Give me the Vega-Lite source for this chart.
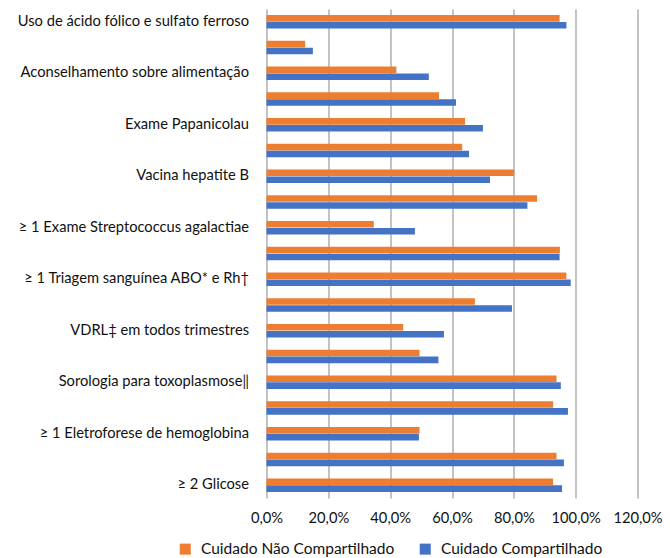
{
  "$schema": "https://vega.github.io/schema/vega-lite/v6.json",
  "width": 371,
  "height": 489,
  "autosize": {"type": "none"},
  "padding": {"left": 266.5, "top": 9, "right": 32.5, "bottom": 60},
  "background": "white",
  "config": {"view": {"stroke": null}, "font": "Lato"},
  "data": {"values": [
    {"item": "Uso de ácido fólico e sulfato ferroso", "grupo": "Cuidado Não Compartilhado", "valor": 94.8},
    {"item": "Uso de ácido fólico e sulfato ferroso", "grupo": "Cuidado Compartilhado", "valor": 97.0},
    {"item": "#2", "grupo": "Cuidado Não Compartilhado", "valor": 12.5},
    {"item": "#2", "grupo": "Cuidado Compartilhado", "valor": 15.0},
    {"item": "Aconselhamento sobre alimentação", "grupo": "Cuidado Não Compartilhado", "valor": 42.0},
    {"item": "Aconselhamento sobre alimentação", "grupo": "Cuidado Compartilhado", "valor": 52.5},
    {"item": "#4", "grupo": "Cuidado Não Compartilhado", "valor": 55.8},
    {"item": "#4", "grupo": "Cuidado Compartilhado", "valor": 61.3},
    {"item": "Exame Papanicolau", "grupo": "Cuidado Não Compartilhado", "valor": 64.2},
    {"item": "Exame Papanicolau", "grupo": "Cuidado Compartilhado", "valor": 70.0},
    {"item": "#6", "grupo": "Cuidado Não Compartilhado", "valor": 63.3},
    {"item": "#6", "grupo": "Cuidado Compartilhado", "valor": 65.5},
    {"item": "Vacina hepatite B", "grupo": "Cuidado Não Compartilhado", "valor": 80.1},
    {"item": "Vacina hepatite B", "grupo": "Cuidado Compartilhado", "valor": 72.3},
    {"item": "#8", "grupo": "Cuidado Não Compartilhado", "valor": 87.5},
    {"item": "#8", "grupo": "Cuidado Compartilhado", "valor": 84.4},
    {"item": "≥ 1 Exame Streptococcus agalactiae", "grupo": "Cuidado Não Compartilhado", "valor": 34.7},
    {"item": "≥ 1 Exame Streptococcus agalactiae", "grupo": "Cuidado Compartilhado", "valor": 48.0},
    {"item": "#10", "grupo": "Cuidado Não Compartilhado", "valor": 94.9},
    {"item": "#10", "grupo": "Cuidado Compartilhado", "valor": 94.8},
    {"item": "≥ 1 Triagem sanguínea ABO* e Rh†", "grupo": "Cuidado Não Compartilhado", "valor": 97.0},
    {"item": "≥ 1 Triagem sanguínea ABO* e Rh†", "grupo": "Cuidado Compartilhado", "valor": 98.4},
    {"item": "#12", "grupo": "Cuidado Não Compartilhado", "valor": 67.4},
    {"item": "#12", "grupo": "Cuidado Compartilhado", "valor": 79.4},
    {"item": "VDRL‡ em todos trimestres", "grupo": "Cuidado Não Compartilhado", "valor": 44.2},
    {"item": "VDRL‡ em todos trimestres", "grupo": "Cuidado Compartilhado", "valor": 57.4},
    {"item": "#14", "grupo": "Cuidado Não Compartilhado", "valor": 49.5},
    {"item": "#14", "grupo": "Cuidado Compartilhado", "valor": 55.6},
    {"item": "Sorologia para toxoplasmose‖", "grupo": "Cuidado Não Compartilhado", "valor": 93.8},
    {"item": "Sorologia para toxoplasmose‖", "grupo": "Cuidado Compartilhado", "valor": 95.2},
    {"item": "#16", "grupo": "Cuidado Não Compartilhado", "valor": 92.7},
    {"item": "#16", "grupo": "Cuidado Compartilhado", "valor": 97.5},
    {"item": "≥ 1 Eletroforese de hemoglobina", "grupo": "Cuidado Não Compartilhado", "valor": 49.5},
    {"item": "≥ 1 Eletroforese de hemoglobina", "grupo": "Cuidado Compartilhado", "valor": 49.3},
    {"item": "#18", "grupo": "Cuidado Não Compartilhado", "valor": 93.8},
    {"item": "#18", "grupo": "Cuidado Compartilhado", "valor": 96.2},
    {"item": "≥ 2 Glicose", "grupo": "Cuidado Não Compartilhado", "valor": 92.7},
    {"item": "≥ 2 Glicose", "grupo": "Cuidado Compartilhado", "valor": 95.6}
  ]},
  "mark": {"type": "bar"},
  "encoding": {
    "y": {
      "field": "item", "type": "nominal", "sort": null,
      "scale": {"paddingInner": 0.475, "paddingOuter": 0.2375},
      "axis": {
        "title": null, "domain": false, "ticks": false, "grid": false,
        "labelPadding": 18, "labelFontSize": 14.7, "labelColor": "#111111",
        "labelLimit": 400,
        "labelExpr": "slice(datum.value, 0, 1) == '#' ? '' : datum.value"
      }
    },
    "yOffset": {
      "field": "grupo", "type": "nominal",
      "sort": ["Cuidado Não Compartilhado", "Cuidado Compartilhado"],
      "scale": {"paddingInner": 0.05}
    },
    "x": {
      "field": "valor", "type": "quantitative",
      "scale": {"domain": [0, 120], "nice": false},
      "axis": {
        "title": null, "domain": false, "ticks": false, "grid": true,
        "gridColor": "#a9a9ae", "gridWidth": 1.4,
        "values": [0, 20, 40, 60, 80, 100, 120],
        "labelOverlap": false, "labelFlush": false,
        "labelExpr": "replace(format(datum.value, '.1f'), '.', ',') + '%'",
        "labelFontSize": 14.7, "labelColor": "#111111", "labelPadding": 12
      }
    },
    "color": {
      "field": "grupo", "type": "nominal",
      "scale": {"domain": ["Cuidado Não Compartilhado", "Cuidado Compartilhado"], "range": ["#ED7D31", "#4472C4"]},
      "legend": {
        "title": null, "orient": "none", "legendX": -89, "legendY": 532,
        "direction": "horizontal", "symbolType": "square", "symbolSize": 121,
        "symbolStrokeWidth": 0, "labelFontSize": 15.5, "labelColor": "#111111",
        "labelLimit": 400, "columnPadding": 23, "labelOffset": 8
      }
    }
  }
}
